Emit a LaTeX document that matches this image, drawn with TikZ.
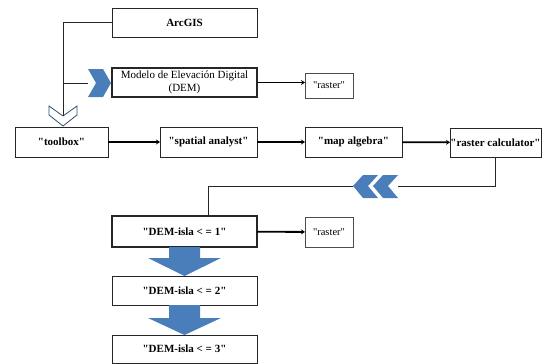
\documentclass[tikz,border=0pt]{standalone}
\usepackage{xcolor}
\usepackage{fontspec}
\setmainfont{Liberation Serif}[Ligatures=TeXOff]
\usetikzlibrary{arrows.meta, positioning}
\definecolor{chevblue}{RGB}{74,126,187}
\definecolor{chevline}{RGB}{45,75,115}

\begin{document}
\begin{tikzpicture}[x=1pt,y=-1pt]
\tikzstyle{process} = [rectangle, minimum width=145pt, minimum height=29pt, inner sep=0pt, outer sep=0pt, text centered, draw=black!85, line width=0.7pt, font=\fontsize{11}{12}\selectfont\bfseries]
\tikzstyle{mainbox} = [process, line width=1.5pt]
\tikzstyle{output} = [rectangle, minimum width=48pt, minimum height=25pt, inner sep=0pt, outer sep=0pt, text centered, draw=black!70, line width=0.7pt, font=\fontsize{10.5}{12}\selectfont]
\tikzstyle{arrow} = [line width=1.8pt, -{Stealth[length=4pt, width=5pt]}]
\tikzstyle{line} = [draw=black!85, line width=0.7pt]

\useasboundingbox (0,0) rectangle (542,364);

\node (arcgis) [process] at (184.5,22.5) {ArcGIS};
\node (dem) [mainbox, align=center, font=\fontsize{11}{13}\selectfont] at (184.5,82.5) {Modelo de Elevación Digital\\(DEM)};
\node (raster1) [output] at (329,85.5) {"raster"};
\node (toolbox) [process, minimum width=93pt, minimum height=30pt] at (61.5,142) {"toolbox"};
\node (spatial) [process, minimum width=97pt, minimum height=30pt] at (208.5,142) {"spatial analyst"};
\node (mapalg) [process, minimum width=97pt, minimum height=30pt] at (353.5,142) {"map algebra"};
\node (rcalc) [process, minimum width=91pt, minimum height=29pt] at (495.5,142.5) {"raster calculator"};
\node (isla1) [mainbox, minimum height=31pt] at (184.5,231.5) {"DEM-isla < = 1"};
\node (raster2) [output, minimum height=30pt] at (329,232) {"raster"};
\node (isla2) [process] at (184.5,290.5) {"DEM-isla < = 2"};
\node (isla3) [process, minimum height=28pt] at (184.5,349) {"DEM-isla < = 3"};

% chevrons
\coordinate (split) at (63,83);
\coordinate (demchev) at (88,83);
\coordinate (downchev) at (63,116);
\coordinate (loopin) at (398,186);
\coordinate (loopout) at (353,186);
\fill [chevblue] (88,69) -- (103,69) -- (111,83) -- (103,97) -- (88,97) -- (96,83) -- cycle;
\draw [chevline, fill=white, line width=0.8pt] (49,106) -- (63,116) -- (77,106) -- (77,115) -- (63,126) -- (49,115) -- cycle;
\fill [chevblue] (353,186) -- (363,175) -- (378,175) -- (368,186) -- (378,198) -- (363,198) -- cycle;
\fill [chevblue] (373,186) -- (383,175) -- (398,175) -- (388,186) -- (398,198) -- (383,198) -- cycle;

% block arrows
\fill [chevblue] (169,247) -- (200,247) -- (200,258) -- (221,258) -- (184.5,276) -- (148,258) -- (169,258) -- cycle;
\fill [chevblue] (169,305) -- (200,305) -- (200,318) -- (221,318) -- (184.5,335) -- (148,318) -- (169,318) -- cycle;

% connectors
\draw [line] (arcgis.west) -| (downchev);
\draw [line] (split) -- (demchev);
\draw [line] (rcalc.south) |- (loopin);
\draw [line] (loopout) -| ([xshift=23.5pt]isla1.north);

\draw [arrow] (dem.east) -- (dem.east -| raster1.west);
\draw [arrow] (toolbox) -- (spatial);
\draw [arrow] (spatial) -- (mapalg);
\draw [arrow] (mapalg) -- (rcalc);
\draw [arrow] (isla1) -- (raster2);

\end{tikzpicture}
\end{document}
